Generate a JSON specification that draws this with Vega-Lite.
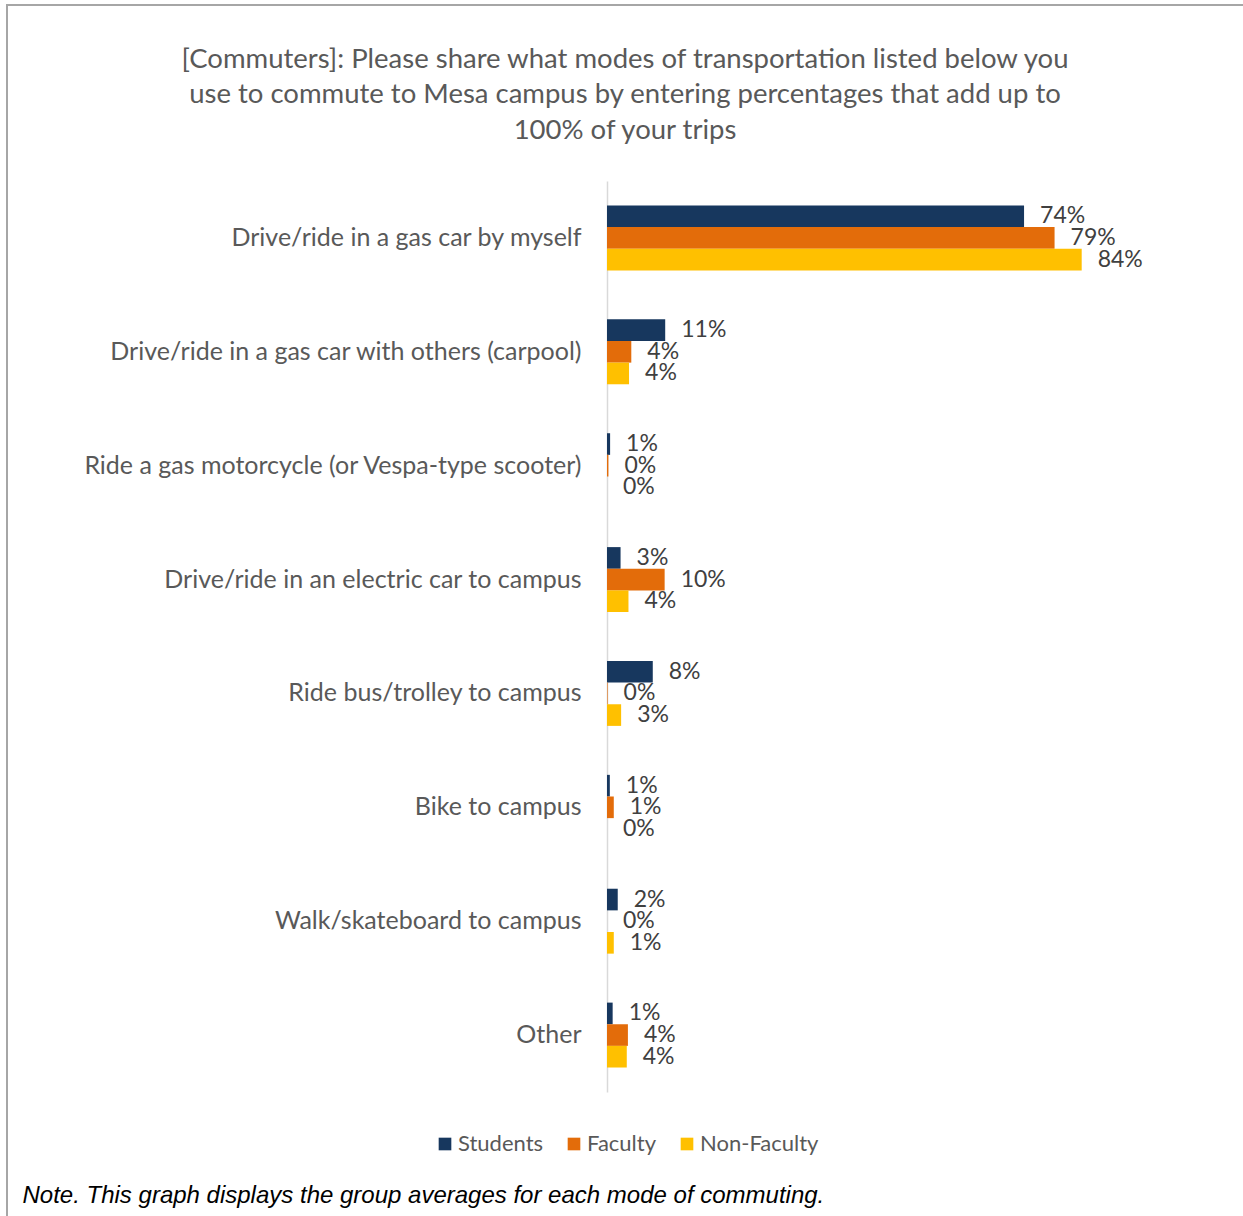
{
  "$schema": "https://vega.github.io/schema/vega-lite/v6.json",
  "autosize": {"type": "none"},
  "padding": {"left": 7, "top": 5, "right": 0, "bottom": 0},
  "width": 1240,
  "height": 1215,
  "background": "white",
  "config": {
    "view": {"stroke": "#a6a6a6", "strokeWidth": 2},
    "font": "Lato"
  },
  "title": {
    "text": ["[Commuters]: Please share what modes of transportation listed below you", "use to commute to Mesa campus by entering percentages that add up to", "100% of your trips"],
    "font": "Lato",
    "fontSize": 27.5,
    "fontWeight": "normal",
    "color": "#595959",
    "lineHeight": 35.5,
    "anchor": "middle",
    "frame": "group",
    "baseline": "bottom",
    "offset": -167,
    "dx": -2
  },
  "data": {
    "values": [
      {"mode": "Drive/ride in a gas car by myself", "group": "Students", "value": 73.8, "label": "74%"},
      {"mode": "Drive/ride in a gas car by myself", "group": "Faculty", "value": 79.2, "label": "79%"},
      {"mode": "Drive/ride in a gas car by myself", "group": "Non-Faculty", "value": 84.0, "label": "84%"},
      {"mode": "Drive/ride in a gas car with others (carpool)", "group": "Students", "value": 10.3, "label": "11%"},
      {"mode": "Drive/ride in a gas car with others (carpool)", "group": "Faculty", "value": 4.3, "label": "4%"},
      {"mode": "Drive/ride in a gas car with others (carpool)", "group": "Non-Faculty", "value": 3.9, "label": "4%"},
      {"mode": "Ride a gas motorcycle (or Vespa-type scooter)", "group": "Students", "value": 0.55, "label": "1%"},
      {"mode": "Ride a gas motorcycle (or Vespa-type scooter)", "group": "Faculty", "value": 0.25, "label": "0%"},
      {"mode": "Ride a gas motorcycle (or Vespa-type scooter)", "group": "Non-Faculty", "value": 0, "label": "0%"},
      {"mode": "Drive/ride in an electric car to campus", "group": "Students", "value": 2.4, "label": "3%"},
      {"mode": "Drive/ride in an electric car to campus", "group": "Faculty", "value": 10.2, "label": "10%"},
      {"mode": "Drive/ride in an electric car to campus", "group": "Non-Faculty", "value": 3.8, "label": "4%"},
      {"mode": "Ride bus/trolley to campus", "group": "Students", "value": 8.1, "label": "8%"},
      {"mode": "Ride bus/trolley to campus", "group": "Faculty", "value": 0.1, "label": "0%"},
      {"mode": "Ride bus/trolley to campus", "group": "Non-Faculty", "value": 2.5, "label": "3%"},
      {"mode": "Bike to campus", "group": "Students", "value": 0.5, "label": "1%"},
      {"mode": "Bike to campus", "group": "Faculty", "value": 1.2, "label": "1%"},
      {"mode": "Bike to campus", "group": "Non-Faculty", "value": 0, "label": "0%"},
      {"mode": "Walk/skateboard to campus", "group": "Students", "value": 1.9, "label": "2%"},
      {"mode": "Walk/skateboard to campus", "group": "Faculty", "value": 0, "label": "0%"},
      {"mode": "Walk/skateboard to campus", "group": "Non-Faculty", "value": 1.2, "label": "1%"},
      {"mode": "Other", "group": "Students", "value": 1.0, "label": "1%"},
      {"mode": "Other", "group": "Faculty", "value": 3.7, "label": "4%"},
      {"mode": "Other", "group": "Non-Faculty", "value": 3.5, "label": "4%"}
    ]
  },
  "encoding": {
    "y": {
      "field": "mode",
      "type": "nominal",
      "sort": null,
      "scale": {"range": [176, 1087], "paddingInner": 0.43, "paddingOuter": 0.215},
      "axis": {
        "title": null,
        "orient": "left",
        "offset": -600,
        "ticks": false,
        "tickSize": 0,
        "labelPadding": 26,
        "labelFont": "Lato",
        "labelFontSize": 25,
        "labelColor": "#595959",
        "labelLimit": 600,
        "domainColor": "#d9d9d9",
        "domainWidth": 1.5
      }
    },
    "yOffset": {
      "field": "group",
      "type": "nominal",
      "sort": ["Students", "Faculty", "Non-Faculty"],
      "scale": {"paddingInner": 0, "paddingOuter": 0}
    },
    "x": {
      "field": "value",
      "type": "quantitative",
      "scale": {"domain": [0, 90], "range": [600, 1108.6], "nice": false, "zero": true},
      "axis": {
        "orient": "bottom",
        "labels": false,
        "ticks": false,
        "domain": false,
        "grid": false,
        "title": "Note. This graph displays the group averages for each mode of commuting.",
        "titleFont": "Liberation Sans",
        "titleFontStyle": "italic",
        "titleFontWeight": "normal",
        "titleFontSize": 24,
        "titleColor": "#000000",
        "titleAnchor": "start",
        "titleAlign": "left",
        "titleBaseline": "alphabetic",
        "titleX": 15,
        "titleY": -18
      }
    }
  },
  "layer": [
    {
      "mark": {"type": "bar"},
      "encoding": {
        "color": {
          "field": "group",
          "type": "nominal",
          "sort": ["Students", "Faculty", "Non-Faculty"],
          "scale": {"domain": ["Students", "Faculty", "Non-Faculty"], "range": ["#17375E", "#E36C0A", "#FFC000"]},
          "legend": {
            "title": null,
            "orient": "none",
            "direction": "horizontal",
            "legendX": 427,
            "legendY": 1128,
            "padding": 0,
            "symbolType": "square",
            "symbolSize": 160,
            "symbolStrokeWidth": 0,
            "labelFont": "Lato",
            "labelFontSize": 22,
            "labelColor": "#595959",
            "labelOffset": 2,
            "columnPadding": 19
          }
        }
      }
    },
    {
      "mark": {"type": "text", "align": "left", "baseline": "middle", "dx": 16, "font": "Lato", "fontSize": 23, "color": "#404040"},
      "encoding": {
        "text": {"field": "label", "type": "nominal"}
      }
    }
  ]
}
